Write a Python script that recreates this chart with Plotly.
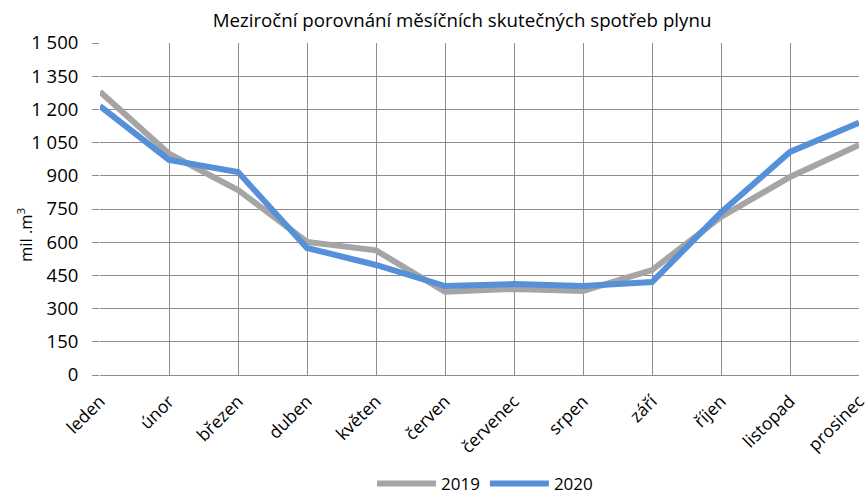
import plotly.graph_objects as go

months = ["leden", "únor", "březen", "duben", "květen", "červen",
          "červenec", "srpen", "září", "říjen", "listopad", "prosinec"]
v2019 = [1280, 1000, 836, 601, 563, 376, 389, 380, 474, 714, 895, 1039]
v2020 = [1215, 972, 917, 574, 497, 402, 411, 402, 420, 734, 1008, 1140]
yticks = [0, 150, 300, 450, 600, 750, 900, 1050, 1200, 1350, 1500]

xs = list(range(len(months)))
font = "'Open Sans', 'Noto Sans', sans-serif"

W, H = 865, 492
L, R, T, B = 100, 6, 43, 117
pw, ph = W - L - R, H - T - B
grid = "#8c8c8c"

fig = go.Figure()
fig.add_trace(go.Scatter(x=xs, y=v2019, mode="lines", name="2019",
                         line=dict(color="#A5A5A5", width=6)))
fig.add_trace(go.Scatter(x=xs, y=v2020, mode="lines", name="2020",
                         line=dict(color="#5690D8", width=6)))

fig.update_layout(
    width=W, height=H,
    margin=dict(l=L, r=R, t=T, b=B, autoexpand=False),
    paper_bgcolor="white", plot_bgcolor="white",
    separators=", ",
    font=dict(family=font, size=16, color="#000000"),
    title=dict(text="Meziroční porovnání měsíčních skutečných spotřeb plynu",
               xref="paper", x=(462 - L) / pw, xanchor="center",
               y=1 - 20 / H, yanchor="middle",
               font=dict(family=font, size=18.7, color="#000000")),
    showlegend=True,
    legend=dict(orientation="h", x=(485 - L) / pw, xanchor="center",
                y=(T + ph - 484) / ph, yanchor="middle",
                itemwidth=59, font=dict(family=font, size=17), tracegroupgap=0),
    xaxis=dict(range=[0, 11], tickvals=xs, ticktext=months, tickangle=-45,
               automargin=False, ticklabeloverflow="allow", ticklabelstandoff=8,
               showgrid=True, gridcolor=grid, gridwidth=1.4,
               showline=True, linecolor=grid, linewidth=1.4,
               zeroline=False, ticks="", tickfont=dict(family=font, size=17.5)),
    yaxis=dict(range=[0, 1500], tickvals=yticks, tickformat=",d",
               automargin=False, ticklabelstandoff=10,
               showgrid=True, gridcolor=grid, gridwidth=1.4,
               zeroline=False, showline=False,
               ticks="outside", ticklen=7, tickwidth=1.4, tickcolor=grid,
               tickfont=dict(family=font, size=18.5)),
    annotations=[dict(text="mil .m<sup>3</sup>", textangle=-90,
                      xref="paper", yref="paper",
                      x=(25 - L) / pw, y=(T + ph - 235) / ph,
                      xanchor="center", yanchor="middle", showarrow=False,
                      font=dict(family=font, size=16.5, color="#000000"))],
)

fig.write_html("out.html", config={"displayModeBar": False},
               post_script="document.body.style.margin='0';")
